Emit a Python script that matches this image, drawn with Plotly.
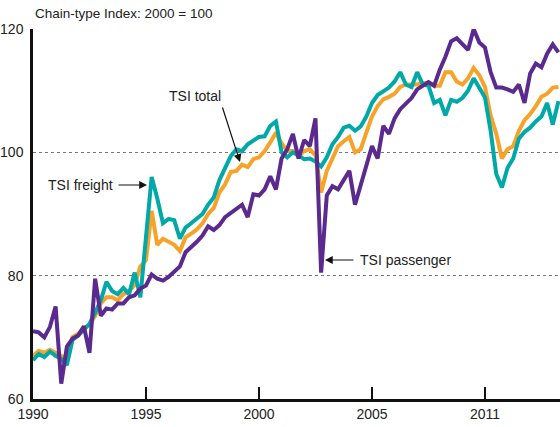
import plotly.graph_objects as go

# Quarterly-ish observations, chart units start 1990
tsi_passenger = [71.0, 70.8, 70.0, 71.7, 75.0, 62.5, 68.5, 69.8, 70.3, 71.8, 67.5, 79.5, 73.5, 74.7, 74.5, 75.5,
                 75.5, 76.5, 76.8, 77.9, 78.4, 80.2, 79.5, 79.2, 79.8, 80.7, 81.5, 83.8, 84.6, 85.5, 86.5, 88.0,
                 87.4, 88.2, 89.5, 90.2, 90.8, 91.5, 89.5, 93.2, 93.0, 94.0, 96.1, 94.0, 99.0, 100.5, 103.0, 99.0,
                 102.0, 101.0, 105.5, 80.5, 93.0, 94.5, 94.0, 95.5, 97.0, 91.5, 94.8, 98.0, 101.0, 99.0, 104.3, 103.0,
                 105.5, 107.0, 107.8, 108.8, 110.2, 110.8, 111.4, 110.8, 113.4, 115.5, 118.0, 118.5, 117.5, 116.6, 120.0, 117.8,
                 117.0, 113.0, 110.5, 110.5, 110.2, 109.8, 111.0, 108.0, 112.8, 114.4, 113.8, 116.0, 117.5, 116.2]
tsi_freight = [66.3, 67.3, 66.8, 67.7, 67.0, 66.5, 65.5, 69.6, 70.3, 71.2, 72.2, 74.0, 76.0, 79.0, 77.5, 77.0,
               78.0, 77.0, 80.5, 76.5, 85.5, 96.0, 92.5, 88.5, 89.2, 89.0, 86.0, 87.8, 88.5, 89.2, 90.0, 91.5,
               92.7, 95.5, 97.3, 99.4, 100.5, 100.2, 101.3, 102.0, 102.5, 102.6, 104.3, 105.0, 100.0, 99.2, 100.0, 99.5,
               98.9, 99.0, 98.5, 97.7, 99.2, 101.3, 102.5, 104.0, 104.3, 103.5, 104.2, 105.8, 108.0, 109.3, 110.0, 110.5,
               111.5, 113.0, 111.0, 110.6, 113.0, 111.0, 110.8, 108.0, 108.5, 106.0, 108.5, 108.2, 108.8, 110.0, 112.0, 110.5,
               108.9, 103.5, 96.5, 94.3, 97.5, 99.0, 102.2, 103.3, 104.0, 105.0, 105.8, 108.0, 104.5, 108.3]
tsi_total = [67.0, 67.8, 67.5, 68.0, 67.5, 67.0, 66.5, 70.0, 70.6, 71.5, 72.0, 73.5, 75.5, 76.5, 76.5, 76.0,
             77.0, 77.5, 78.5, 81.5, 82.5, 90.5, 85.0, 86.0, 85.5, 85.0, 84.0, 86.2, 86.8, 87.5, 88.5, 90.0,
             91.0, 93.5, 94.8, 96.8, 97.0, 98.0, 97.6, 98.9, 99.2, 100.2, 101.6, 103.2, 101.5, 100.2, 100.2, 99.4,
             100.2, 100.5, 99.5, 93.5, 97.0, 99.2, 101.0, 101.8, 102.5, 100.0, 100.5, 103.2, 105.8, 107.5, 108.6, 109.0,
             109.5, 110.6, 111.0, 111.0, 111.0, 111.2, 111.3, 110.8, 110.8, 113.0, 113.0, 111.5, 111.0, 112.0, 113.7, 112.5,
             110.6, 106.0, 103.0, 99.0, 100.5, 101.0, 103.5, 105.2, 106.2, 107.5, 109.0, 109.5, 110.5, 110.6]

periods = [1990 + 0.25 * i for i in range(len(tsi_passenger))]

tick_vals = [1990, 1995, 2000, 2005, 2010]
tick_text = ["1990", "1995", "2000", "2005", "2011"]
y_ticks = [60, 80, 100, 120]

FONT = "Liberation Sans, Arial, sans-serif"
ORANGE = "#F7A229"
TEAL = "#00A9A8"
PURPLE = "#5B2A8E"

fig = go.Figure()
fig.add_trace(go.Scatter(x=periods, y=tsi_total, mode="lines", line=dict(color=ORANGE, width=4), name="TSI total"))
fig.add_trace(go.Scatter(x=periods, y=tsi_freight, mode="lines", line=dict(color=TEAL, width=4), name="TSI freight"))
fig.add_trace(go.Scatter(x=periods, y=tsi_passenger, mode="lines", line=dict(color=PURPLE, width=4), name="TSI passenger"))

fig.update_layout(
    width=560, height=427,
    margin=dict(l=33, r=0, t=29, b=28, autoexpand=False),
    paper_bgcolor="white", plot_bgcolor="white",
    showlegend=False,
    font=dict(family=FONT, size=14, color="#222"),
    xaxis=dict(range=[1990, 2013.32], tickvals=tick_vals, ticktext=tick_text,
               ticks="inside", ticklen=12, tickwidth=1.5, tickcolor="#111",
               showline=True, linecolor="#111", linewidth=2.5, showgrid=False, zeroline=False,
               tickfont=dict(size=14), automargin=False),
    yaxis=dict(range=[60, 120], tickvals=y_ticks, ticks="", showline=True, linecolor="#111", linewidth=2.5,
               showgrid=True, gridcolor="#777", griddash="dot", gridwidth=1, zeroline=False,
               tickfont=dict(size=14), ticklabelstandoff=4, automargin=False),
)

fig.add_annotation(text="Chain-type Index: 2000 = 100", xref="paper", yref="paper", x=0, y=1.043,
                   xanchor="left", yanchor="middle", showarrow=False, font=dict(size=13.5))

arrow = dict(showarrow=True, arrowhead=2, arrowsize=1.3, arrowwidth=1.2, arrowcolor="#111",
             axref="pixel", ayref="pixel")

# TSI total label and arrow
fig.add_annotation(text="TSI total", xref="x", yref="y", x=1990 + (195 - 33) / 22.6, y=120 - (96 - 29) / 6.167,
                   showarrow=False, font=dict(size=14))
fig.add_annotation(text="", xref="x", yref="y", x=1990 + (240 - 33) / 22.6, y=120 - (162 - 29) / 6.167,
                   ax=-18, ay=-56, **arrow)
# TSI freight
fig.add_annotation(text="TSI freight", xref="x", yref="y", x=1990 + (80 - 33) / 22.6, y=120 - (185 - 29) / 6.167,
                   showarrow=False, font=dict(size=14))
fig.add_annotation(text="", xref="x", yref="y", x=1990 + (147 - 33) / 22.6, y=120 - (185 - 29) / 6.167,
                   ax=-30, ay=0, **arrow)
# TSI passenger
fig.add_annotation(text="TSI passenger", xref="x", yref="y", x=1990 + (358 - 33) / 22.6, y=120 - (260 - 29) / 6.167,
                   xanchor="left", showarrow=False, font=dict(size=14))
fig.add_annotation(text="", xref="x", yref="y", x=1990 + (325 - 33) / 22.6, y=120 - (260 - 29) / 6.167,
                   ax=30, ay=0, **arrow)

fig.write_html("out.html", config={"displayModeBar": False},
               post_script="document.body.style.margin='0';document.body.style.overflow='hidden';")
